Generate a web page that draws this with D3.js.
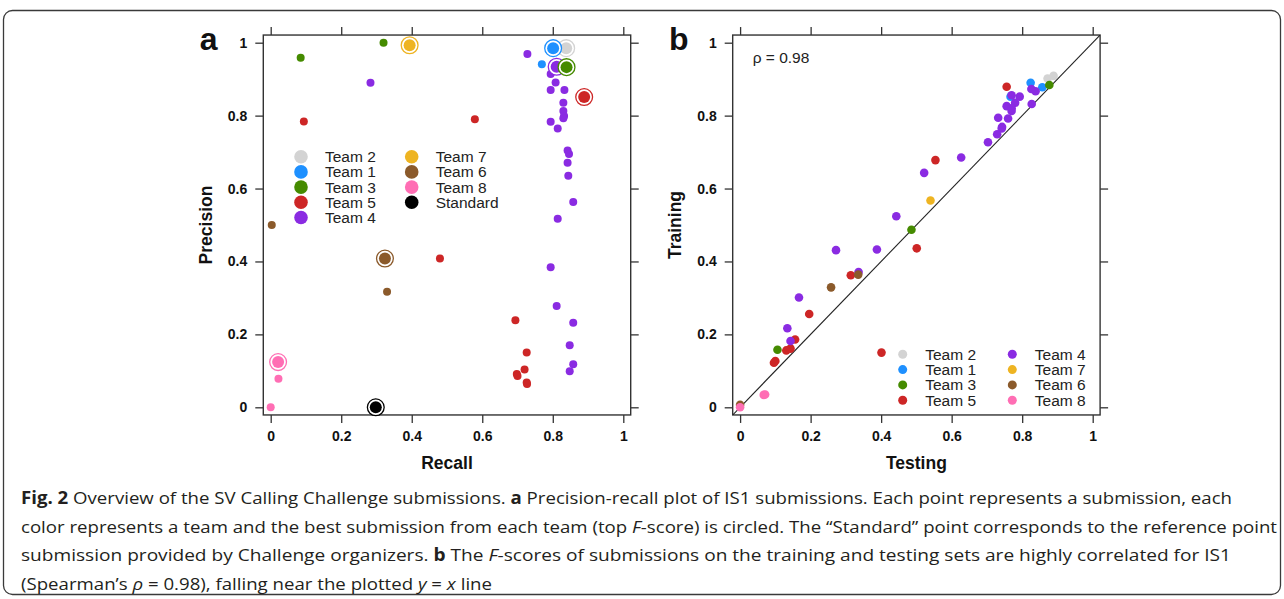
<!DOCTYPE html>
<html>
<head>
<meta charset="utf-8">
<script src="https://cdn.jsdelivr.net/npm/d3@7"></script>
<style>
  body { margin: 0; background: #fff; }
  svg { display: block; }
</style>
</head>
<body>
<svg id="fig" width="1284" height="599"></svg>
<script>
// teams, in legend order
const teams = ["Team 2", "Team 1", "Team 3", "Team 5", "Team 4", "Team 7", "Team 6", "Team 8", "Standard"];
const teamColors = ["#d3d3d3", "#1e90ff", "#458b00", "#cd2626", "#8a2be2", "#eeb422", "#8b5a2b", "#ff6eb4", "#000000"];
const tickValues = [0, 0.2, 0.4, 0.6, 0.8, 1];
const tickLabels = ["0", "0.2", "0.4", "0.6", "0.8", "1"];

// panel a: precision / recall of IS1 submissions (best = circled)
const prTeam = [
  "Team 1", "Team 1",
  "Team 3", "Team 3",
  "Team 5", "Team 5", "Team 5", "Team 5", "Team 5", "Team 5", "Team 5", "Team 5", "Team 5", "Team 5",
  "Team 4", "Team 4", "Team 4", "Team 4", "Team 4", "Team 4", "Team 4", "Team 4", "Team 4", "Team 4",
  "Team 4", "Team 4", "Team 4", "Team 4", "Team 4", "Team 4", "Team 4", "Team 4", "Team 4", "Team 4",
  "Team 4", "Team 4", "Team 4", "Team 4", "Team 4", "Team 4",
  "Team 6", "Team 6",
  "Team 8", "Team 8",
  "Team 4", "Team 2", "Team 1", "Team 3", "Team 5", "Team 7", "Team 6", "Team 8", "Standard"
];
const prRecall = [
  0.800, 0.769,
  0.085, 0.320,
  0.094, 0.579, 0.480, 0.694, 0.726, 0.720, 0.698, 0.700, 0.726, 0.727,
  0.728, 0.283, 0.800, 0.805, 0.794, 0.808, 0.794, 0.833, 0.830, 0.830,
  0.832, 0.830, 0.794, 0.814, 0.842, 0.846, 0.842, 0.844, 0.858, 0.814,
  0.794, 0.811, 0.858, 0.848, 0.858, 0.848,
  0.003, 0.330,
  0.022, 0.000,
  0.811, 0.838, 0.801, 0.839, 0.889, 0.394, 0.324, 0.021, 0.298
];
const prPrecision = [
  0.975, 0.941,
  0.959, 1.000,
  0.784, 0.790, 0.408, 0.239, 0.150, 0.104, 0.091, 0.086, 0.068, 0.064,
  0.969, 0.890, 0.940, 0.930, 0.914, 0.891, 0.870, 0.870, 0.835, 0.813,
  0.799, 0.793, 0.783, 0.765, 0.704, 0.695, 0.671, 0.635, 0.563, 0.517,
  0.384, 0.278, 0.232, 0.170, 0.118, 0.099,
  0.500, 0.317,
  0.078, 0.000,
  0.934, 0.985, 0.985, 0.933, 0.851, 0.993, 0.408, 0.124, 0.000
];
const prBest = [
  0, 0,
  0, 0,
  0, 0, 0, 0, 0, 0, 0, 0, 0, 0,
  0, 0, 0, 0, 0, 0, 0, 0, 0, 0,
  0, 0, 0, 0, 0, 0, 0, 0, 0, 0,
  0, 0, 0, 0, 0, 0,
  0, 0,
  0, 0,
  1, 1, 1, 1, 1, 1, 1, 1, 1
];

// panel b: F-scores, training vs testing
const ftTeam = [
  "Team 2", "Team 2",
  "Team 1", "Team 1", "Team 1",
  "Team 3", "Team 3", "Team 3",
  "Team 5", "Team 5", "Team 5", "Team 5", "Team 5", "Team 5", "Team 5", "Team 5", "Team 5", "Team 5", "Team 5",
  "Team 4", "Team 4", "Team 4", "Team 4", "Team 4", "Team 4", "Team 4", "Team 4", "Team 4", "Team 4",
  "Team 4", "Team 4", "Team 4", "Team 4", "Team 4", "Team 4", "Team 4", "Team 4", "Team 4", "Team 4",
  "Team 4", "Team 4", "Team 4", "Team 4",
  "Team 7",
  "Team 6", "Team 6", "Team 6",
  "Team 8", "Team 8", "Team 8"
];
const ftTesting = [
  0.872, 0.889,
  0.824, 0.857, 0.767,
  0.877, 0.486, 0.106,
  0.756, 0.554, 0.501, 0.314, 0.196, 0.156, 0.143, 0.131, 0.100, 0.096, 0.401,
  0.770, 0.793, 0.826, 0.838, 0.827, 0.780, 0.756, 0.770, 0.770, 0.732,
  0.760, 0.743, 0.742, 0.729, 0.703, 0.627, 0.522, 0.443, 0.272, 0.388,
  0.336, 0.167, 0.134, 0.143,
  0.540,
  0.335, 0.258, 0.000,
  0.067, 0.071, 0.000
];
const ftTraining = [
  0.902, 0.909,
  0.890, 0.878, 0.852,
  0.884, 0.487, 0.158,
  0.879, 0.678, 0.436, 0.362, 0.256, 0.186, 0.161, 0.156, 0.127, 0.122, 0.150,
  0.856, 0.852, 0.873, 0.867, 0.832, 0.835, 0.826, 0.820, 0.813, 0.794,
  0.792, 0.769, 0.765, 0.749, 0.727, 0.685, 0.643, 0.524, 0.431, 0.433,
  0.371, 0.301, 0.217, 0.182,
  0.567,
  0.364, 0.329, 0.007,
  0.034, 0.035, 0.000
];
const rhoText = "\u03c1 = 0.98";

const color = d3.scaleOrdinal().domain(teams).range(teamColors);
const svg = d3.select("#fig");

// outer frame
svg.append("rect")
  .attr("x", 3.5).attr("y", 10.5)
  .attr("width", 1277).attr("height", 584)
  .attr("rx", 9)
  .attr("fill", "none").attr("stroke", "#3a3a3a").attr("stroke-width", 1.3);

function drawPanel(opts) {
  const x = d3.scaleLinear().domain([0, 1]).range([opts.x0, opts.x1]);
  const y = d3.scaleLinear().domain([0, 1]).range([407.3, 42.7]);
  const pad = 0.021;
  const left = x(-pad), right = x(1 + pad), top = y(1 + pad), bottom = y(-pad);
  const g = svg.append("g");
  const fmt = (d, i) => tickLabels[i];

  const axes = [
    [d3.axisLeft(y).tickFormat(fmt), `translate(${left},0)`, true],
    [d3.axisBottom(x).tickFormat(fmt), `translate(0,${bottom})`, true],
    [d3.axisTop(x).tickFormat(""), `translate(0,${top})`, false],
    [d3.axisRight(y).tickFormat(""), `translate(${right},0)`, false]
  ];
  axes.forEach(([ax, tr]) => {
    const a = g.append("g").attr("transform", tr)
      .call(ax.tickValues(tickValues).tickSize(8).tickPadding(8));
    a.select(".domain").remove();
    a.selectAll("line").attr("stroke", "#333").attr("stroke-width", 1.3);
    a.selectAll("text")
      .attr("font-family", "'Liberation Sans', Arial, sans-serif")
      .attr("font-weight", "bold").attr("font-size", 14).attr("fill", "#111");
  });

  g.append("rect")
    .attr("x", left).attr("y", top)
    .attr("width", right - left).attr("height", bottom - top)
    .attr("fill", "none").attr("stroke", "#333").attr("stroke-width", 1.4);

  // panel letter and axis titles
  g.append("text").attr("x", opts.x0 - 71).attr("y", 50)
    .attr("font-family", "'Liberation Sans', Arial, sans-serif")
    .attr("font-weight", "bold").attr("font-size", 32).attr("fill", "#111")
    .text(opts.letter);
  g.append("text")
    .attr("x", (left + right) / 2).attr("y", 469)
    .attr("text-anchor", "middle")
    .attr("font-family", "'Liberation Sans', Arial, sans-serif")
    .attr("font-weight", "bold").attr("font-size", 17.5).attr("fill", "#111")
    .text(opts.xTitle);
  g.append("text")
    .attr("transform", `translate(${opts.x0 - 59},${(top + bottom) / 2}) rotate(-90)`)
    .attr("text-anchor", "middle")
    .attr("font-family", "'Liberation Sans', Arial, sans-serif")
    .attr("font-weight", "bold").attr("font-size", 17.5).attr("fill", "#111")
    .text(opts.yTitle);

  return { g, x, y, left, right, top, bottom };
}

// ---- panel a
const pa = drawPanel({ x0: 270.7, x1: 623.3, letter: "a", xTitle: "Recall", yTitle: "Precision" });

const legA = [["Team 2", "Team 1", "Team 3", "Team 5", "Team 4"], ["Team 7", "Team 6", "Team 8", "Standard"]];
legA.forEach((col, c) => {
  col.forEach((t, r) => {
    const cx = c === 0 ? 301 : 411.7, cy = 156.7 + r * 15.2;
    pa.g.append("circle").attr("cx", cx).attr("cy", cy).attr("r", 6.8).attr("fill", color(t));
    pa.g.append("text").attr("x", cx + 24).attr("y", cy + 5.4)
      .attr("font-family", "'Liberation Sans', Arial, sans-serif")
      .attr("font-size", 15.5).attr("fill", "#222").text(t);
  });
});

const prData = prTeam.map((t, i) => ({ team: t, x: prRecall[i], y: prPrecision[i], best: prBest[i] }));
prData.forEach(d => {
  const cx = pa.x(d.x), cy = pa.y(d.y), col = color(d.team);
  if (d.best) {
    pa.g.append("circle").attr("cx", cx).attr("cy", cy).attr("r", 8.4)
      .attr("fill", "#fff").attr("stroke", col).attr("stroke-width", 1.3);
    pa.g.append("circle").attr("cx", cx).attr("cy", cy).attr("r", 6).attr("fill", col);
  } else {
    pa.g.append("circle").attr("cx", cx).attr("cy", cy).attr("r", 4).attr("fill", col);
  }
});

// ---- panel b
const pb = drawPanel({ x0: 740.1, x1: 1092.7, letter: "b", xTitle: "Testing", yTitle: "Training" });

svg.append("clipPath").attr("id", "clipB").append("rect")
  .attr("x", pb.left).attr("y", pb.top)
  .attr("width", pb.right - pb.left).attr("height", pb.bottom - pb.top);
pb.g.append("line")
  .attr("clip-path", "url(#clipB)")
  .attr("x1", pb.x(-0.05)).attr("y1", pb.y(-0.05))
  .attr("x2", pb.x(1.05)).attr("y2", pb.y(1.05))
  .attr("stroke", "#222").attr("stroke-width", 1.1);

pb.g.append("text").attr("x", 752.7).attr("y", 62.5)
  .attr("font-family", "'Liberation Sans', Arial, sans-serif")
  .attr("font-size", 15.5).attr("fill", "#222").text(rhoText);

pb.g.selectAll("circle.pt")
  .data(ftTeam.map((t, i) => ({ team: t, x: ftTesting[i], y: ftTraining[i] })))
  .join("circle").attr("class", "pt")
  .attr("cx", d => pb.x(d.x)).attr("cy", d => pb.y(d.y))
  .attr("r", 4.3).attr("fill", d => color(d.team));

const legB = [["Team 2", "Team 1", "Team 3", "Team 5"], ["Team 4", "Team 7", "Team 6", "Team 8"]];
legB.forEach((col, c) => {
  col.forEach((t, r) => {
    const cx = c === 0 ? 902.7 : 1012.3, cy = 354.3 + r * 15.3;
    pb.g.append("circle").attr("cx", cx).attr("cy", cy).attr("r", 4.5).attr("fill", color(t));
    pb.g.append("text").attr("x", cx + 22.5).attr("y", cy + 5.4)
      .attr("font-family", "'Liberation Sans', Arial, sans-serif")
      .attr("font-size", 15.5).attr("fill", "#222").text(t);
  });
});

// ---- caption
const captionLines = [
  { end: 1232, parts: [["Fig. 2", "b"], [" Overview of the SV Calling Challenge submissions. ", ""], ["a", "b"],
    [" Precision-recall plot of IS1 submissions. Each point represents a submission, each", ""]] },
  { end: 1277, parts: [["color represents a team and the best submission from each team (top ", ""], ["F", "i"],
    ["-score) is circled. The \u201cStandard\u201d point corresponds to the reference point", ""]] },
  { end: 1231, parts: [["submission provided by Challenge organizers. ", ""], ["b", "b"], [" The ", ""], ["F", "i"],
    ["-scores of submissions on the training and testing sets are highly correlated for IS1", ""]] },
  { end: 492, parts: [["(Spearman\u2019s ", ""], ["\u03c1", "i"], [" = 0.98), falling near the plotted ", ""], ["y", "i"],
    [" = ", ""], ["x", "i"], [" line", ""]] }
];
captionLines.forEach((line, i) => {
  const t = svg.append("text")
    .attr("x", 21).attr("y", 504 + i * 28.7)
    .attr("font-family", "'Open Sans', 'Noto Sans', sans-serif")
    .attr("font-size", 17).attr("fill", "#231f20")
    .attr("textLength", line.end - 21).attr("lengthAdjust", "spacingAndGlyphs");
  line.parts.forEach(([s, st]) => {
    t.append("tspan").text(s)
      .attr("font-weight", st === "b" ? "bold" : null)
      .attr("font-style", st === "i" ? "italic" : null);
  });
});
</script>
</body>
</html>
